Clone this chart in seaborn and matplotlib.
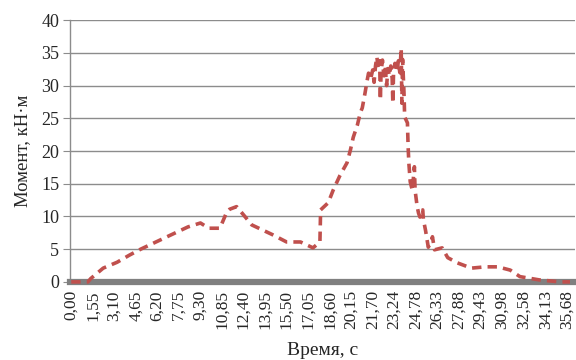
import matplotlib
matplotlib.use('Agg')
import matplotlib.pyplot as plt
import seaborn as sns
import pandas as pd

# ------------------------
# Данные
# ------------------------
time_s = [0.0, 0.6, 1.2, 1.4, 2.3, 3.3, 4.2, 5.0, 5.9, 6.9, 7.6, 8.4, 9.3, 9.9,
          10.7, 11.2, 11.4, 11.9, 12.3, 13.0, 13.8, 14.5, 15.5, 16.5, 17.4, 17.9,
          17.95, 18.3, 18.5, 18.85, 19.35, 19.85, 20.1, 20.3, 20.6, 20.8, 20.95,
          21.15, 21.3, 21.4, 21.55, 21.7, 21.8, 21.9, 22.0, 22.1, 22.2, 22.25,
          22.3, 22.4, 22.5, 22.6, 22.7, 22.8, 22.9, 23.0, 23.1, 23.15, 23.2, 23.3,
          23.45, 23.55, 23.65, 23.75, 23.8, 23.85, 23.95, 24.0, 24.2, 24.25, 24.3,
          24.4, 24.55, 24.7, 24.75, 24.9, 25.0, 25.1, 25.2, 25.3, 25.35, 25.5,
          25.7, 25.9, 26.0, 26.15, 26.7, 27.1, 27.8, 28.8, 29.8, 30.7, 31.6, 32.3,
          33.7, 35.2, 35.9]
moment = [0.0, 0.0, 0.0, 0.5, 2.1, 3.0, 4.1, 5.0, 5.9, 6.9, 7.6, 8.4, 9.0, 8.2,
          8.2, 10.7, 11.1, 11.5, 10.5, 8.7, 7.9, 7.2, 6.1, 6.1, 5.2, 6.1,
          11.0, 11.7, 12.1, 14.0, 16.3, 18.2, 20.2, 22.1, 24.0, 25.8, 26.6,
          28.9, 30.8, 31.9, 31.0, 32.4, 30.5, 33.0, 34.4, 32.5, 33.8, 27.8,
          32.0, 33.9, 31.5, 32.8, 30.0, 32.6, 31.5, 33.0, 31.1, 27.3, 32.0, 33.4,
          32.2, 33.8, 32.0, 35.7, 27.3, 34.0, 29.0, 25.2, 24.3, 20.6, 18.2,
          15.3, 14.0, 17.6, 14.0, 11.5, 10.5, 9.9, 10.7, 11.0, 9.5, 7.9,
          5.3, 6.1, 6.9, 4.9, 5.2, 3.7, 2.9, 2.1, 2.3, 2.3, 1.8, 0.8,
          0.3, 0.0, 0.0]

x_labels = ["0,00", "1,55", "3,10", "4,65", "6,20", "7,75", "9,30", "10,85",
            "12,40", "13,95", "15,50", "17,05", "18,60", "20,15", "21,70",
            "23,24", "24,78", "26,33", "27,88", "29,43", "30,98", "32,58",
            "34,13", "35,68"]
y_ticks = [0, 5, 10, 15, 20, 25, 30, 35, 40]

df = pd.DataFrame({'t': time_s, 'm': moment})

# ------------------------
# Стиль
# ------------------------
sns.set_style('white')
plt.rcParams['font.family'] = ['Liberation Serif', 'DejaVu Serif']

fig = plt.figure(figsize=(5.76, 3.6), dpi=100)
ax = fig.add_axes([0.122, 0.217, 0.876, 0.727])

ax.set_axisbelow(True)
ax.yaxis.grid(True, color='#8c8c8c', linewidth=1.0)

sns.lineplot(data=df, x='t', y='m', sort=False, estimator=None, ax=ax,
             color='#c0504d', linewidth=2.6, linestyle=(0, (2.6, 1.7)),
             zorder=5, clip_on=False)

ax.set_xlim(-0.07, 36.25)
ax.set_ylim(0, 40)
ax.set_yticks(y_ticks)
ax.set_xticks([float(s.replace(',', '.')) for s in x_labels])
ax.set_xticklabels(x_labels, rotation=90)

ax.tick_params(axis='y', which='major', length=5, color='#8c8c8c', labelsize=13, pad=3, left=True)
ax.tick_params(axis='x', length=0, labelsize=12.5, pad=6)

for side in ['top', 'right']:
    ax.spines[side].set_visible(False)
ax.spines['left'].set_color('#8c8c8c')
ax.spines['left'].set_linewidth(1.0)
ax.spines['bottom'].set_color('#808080')
ax.spines['bottom'].set_linewidth(4.5)

ax.set_xlabel('Время, с', fontsize=14, labelpad=9)
ax.set_ylabel('Момент, кН·м', fontsize=13.5, labelpad=7)

plt.savefig('out.png', dpi=100)
plt.close()
